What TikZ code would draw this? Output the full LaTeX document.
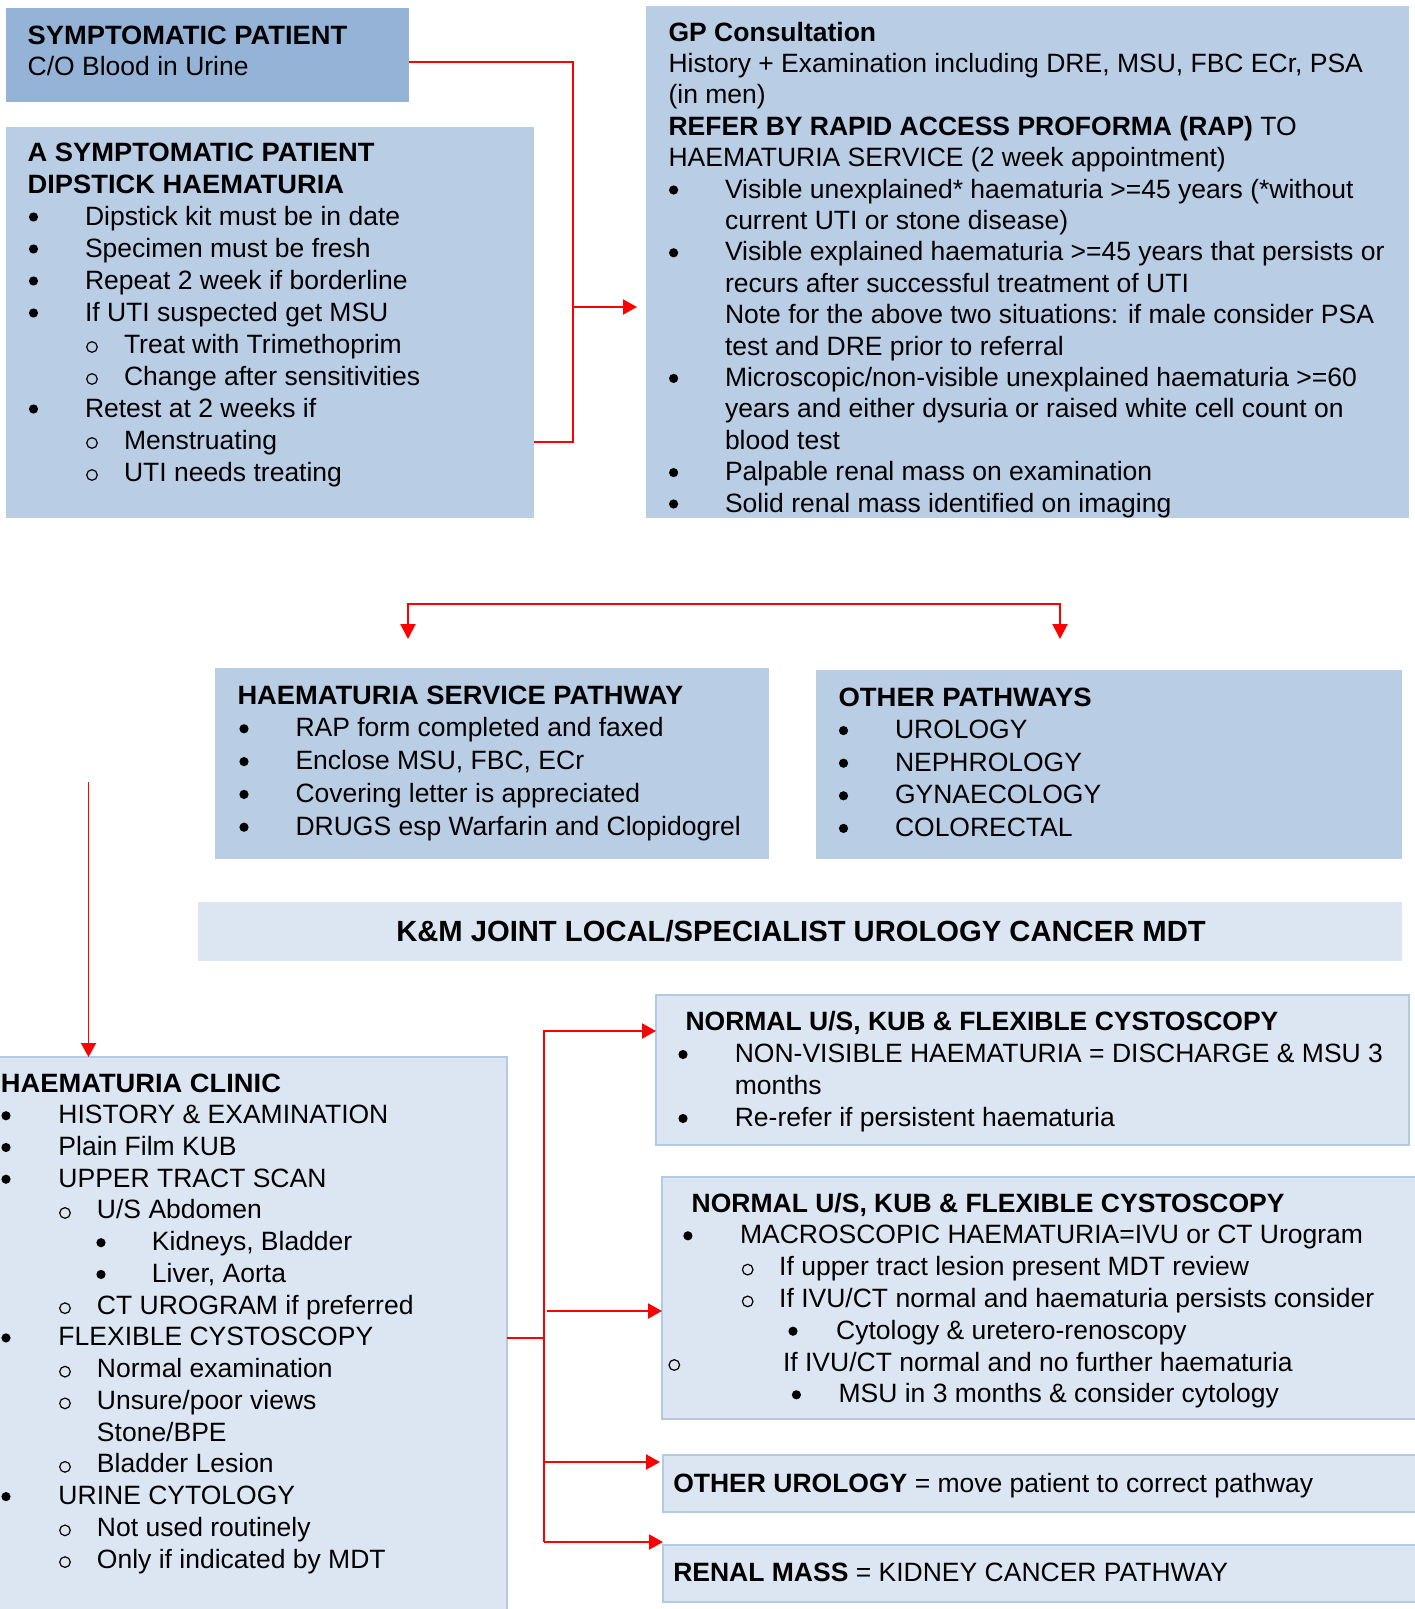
\documentclass[tikz,border=0pt]{standalone}
\usepackage{graphicx}
\usepackage{fontspec}
\setmainfont{Liberation Sans}
\usetikzlibrary{arrows.meta}
\definecolor{cA}{HTML}{95B3D7}
\definecolor{cB}{HTML}{B9CDE5}
\definecolor{cC}{HTML}{DCE6F2}
\definecolor{cE}{HTML}{B4C9E3}
\definecolor{rd}{HTML}{FF0000}
\newcommand\BU{\tikz[x=1pt,y=1pt,baseline=0pt]\fill[black] (0,8) circle (4.6);}
\newcommand\RI{\tikz[x=1pt,y=1pt,baseline=0pt]\draw[black,line width=1.2pt] (0,6) circle (5.3);}
\newcommand\HB[1]{\scalebox{1.03}[1]{\bfseries #1}}
\newcommand\LB[3]{\hbox{\rlap{\hskip#1pt\makebox[0pt]{\BU}}\hskip#2pt\relax #3}}
\newcommand\LO[3]{\hbox{\rlap{\hskip#1pt\makebox[0pt]{\RI}}\hskip#2pt\relax #3}}
\newcommand\LP[2]{\hbox{\hskip#1pt\relax #2}}
\newcommand\Lines[2]{\vtop{\baselineskip=#1pt\lineskiplimit=-100pt\lineskip=0pt #2}}
\tikzset{
  bx/.style={inner sep=0pt, outer sep=0pt, anchor=north west, draw=none},
  bxA/.style={bx, fill=cA},
  bxB/.style={bx, fill=cB},
  bxC/.style={bx, fill=cC},
  bxD/.style={bx, fill=cC, draw=cE, line width=2pt},
  txt/.style={inner sep=0pt, outer sep=0pt, anchor=base west, font=\fontsize{26.5}{31}\selectfont},
  conn/.style={draw=rd, line width=2pt},
  arr/.style={-{Triangle[length=14pt,width=15pt]}},
}
\begin{document}
\begin{tikzpicture}[x=1pt,y=-1pt]
\useasboundingbox (0,0) rectangle (1414,1609);
% boxes
\node[bxA, minimum width=403, minimum height=94] (sp) at (6,8) {};
\node[bxB, minimum width=528, minimum height=391] (asp) at (6,127) {};
\node[bxB, minimum width=763, minimum height=512] (gp) at (646,6) {};
\node[bxB, minimum width=554, minimum height=191] (hsp) at (215,668) {};
\node[bxB, minimum width=586, minimum height=189] (op) at (816,670) {};
\node[bxC, minimum width=1204, minimum height=59] (mdt) at (198,902) {};
\node[bxD, minimum width=509, minimum height=560] (clinic) at (-2,1057) {};
\node[bxD, minimum width=753, minimum height=150] (nA) at (656,995) {};
\node[bxD, minimum width=762, minimum height=242] (nB) at (662,1177) {};
\node[bxD, minimum width=762, minimum height=57] (oc) at (663,1455) {};
\node[bxD, minimum width=762, minimum height=57] (rm) at (663,1545) {};

% texts
\node[txt] (spT) at (27.7,44) {\Lines{31}{%
\LP{0}{\HB{SYMPTOMATIC PATIENT}}
\LP{0}{C/O Blood in Urine}}};

\node[txt] (aspT) at (27.7,161) {\Lines{32}{%
\LP{0}{\HB{A SYMPTOMATIC PATIENT}}
\LP{0}{\HB{DIPSTICK HAEMATURIA}}
\LB{5.8}{57.3}{Dipstick kit must be in date}
\LB{5.8}{57.3}{Specimen must be fresh}
\LB{5.8}{57.3}{Repeat 2 week if borderline}
\LB{5.8}{57.3}{If UTI suspected get MSU}
\LO{64.3}{96.3}{Treat with Trimethoprim}
\LO{64.3}{96.3}{Change after sensitivities}
\LB{5.8}{57.3}{Retest at 2 weeks if}
\LO{64.3}{96.3}{Menstruating}
\LO{64.3}{96.3}{UTI needs treating}}};

\node[txt] (gpT) at (668.6,41) {\Lines{31.4}{%
\LP{0}{\bfseries GP Consultation}
\LP{0}{History + Examination including DRE, MSU, FBC ECr, PSA}
\LP{0}{(in men)}
\LP{0}{\textbf{REFER BY RAPID ACCESS PROFORMA (RAP)} TO}
\LP{0}{HAEMATURIA SERVICE (2 week appointment)}
\LB{5}{56.4}{Visible unexplained* haematuria >=45 years (*without}
\LP{56.4}{current UTI or stone disease)}
\LB{5}{56.4}{Visible explained haematuria >=45 years that persists or}
\LP{56.4}{recurs after successful treatment of UTI}
\LP{56.4}{Note for the above two situations: if male consider PSA}
\LP{56.4}{test and DRE prior to referral}
\LB{5}{56.4}{Microscopic/non-visible unexplained haematuria >=60}
\LP{56.4}{years and either dysuria or raised white cell count on}
\LP{56.4}{blood test}
\LB{5}{56.4}{Palpable renal mass on examination}
\LB{5}{56.4}{Solid renal mass identified on imaging}}};

\node[txt] (hspT) at (237.5,704) {\Lines{32.8}{%
\LP{0}{\HB{HAEMATURIA SERVICE PATHWAY}}
\LB{6.5}{58}{RAP form completed and faxed}
\LB{6.5}{58}{Enclose MSU, FBC, ECr}
\LB{6.5}{58}{Covering letter is appreciated}
\LB{6.5}{58}{DRUGS esp Warfarin and Clopidogrel}}};

\node[txt] (opT) at (838.5,706) {\Lines{32.6}{%
\LP{0}{\scalebox{1.038}[1]{\bfseries OTHER PATHWAYS}}
\LB{5}{56.5}{UROLOGY}
\LB{5}{56.5}{NEPHROLOGY}
\LB{5}{56.5}{GYNAECOLOGY}
\LB{5}{56.5}{COLORECTAL}}};

\node[txt, anchor=base, font=\fontsize{29.2}{31}\selectfont\bfseries] (mdtT) at (801,941) {K\&M JOINT LOCAL/SPECIALIST UROLOGY CANCER MDT};

\node[txt] (clinicT) at (1,1092) {\Lines{31.74}{%
\LP{0}{\HB{HAEMATURIA CLINIC}}
\LB{5}{57.5}{HISTORY \& EXAMINATION}
\LB{5}{57.5}{Plain Film KUB}
\LB{5}{57.5}{UPPER TRACT SCAN}
\LO{64}{96}{U/S Abdomen}
\LB{100}{151}{Kidneys, Bladder}
\LB{100}{151}{Liver, Aorta}
\LO{64}{96}{CT UROGRAM if preferred}
\LB{5}{57.5}{FLEXIBLE CYSTOSCOPY}
\LO{64}{96}{Normal examination}
\LO{64}{96}{Unsure/poor views}
\LP{96}{Stone/BPE}
\LO{64}{96}{Bladder Lesion}
\LB{5}{57.5}{URINE CYTOLOGY}
\LO{64}{96}{Not used routinely}
\LO{64}{96}{Only if indicated by MDT}}};

\node[txt] (nAT) at (685.5,1030.5) {\Lines{32}{%
\LP{0}{\bfseries NORMAL U/S, KUB \& FLEXIBLE CYSTOSCOPY}
\LB{-2.5}{49.3}{NON-VISIBLE HAEMATURIA = DISCHARGE \& MSU 3}
\LP{49.3}{months}
\LB{-2.5}{49.3}{Re-refer if persistent haematuria}}};

\node[txt] (nBT) at (691.7,1212) {\Lines{31.8}{%
\LP{0}{\bfseries NORMAL U/S, KUB \& FLEXIBLE CYSTOSCOPY}
\LB{-3.8}{48.3}{MACROSCOPIC HAEMATURIA=IVU or CT Urogram}
\LO{56}{87.5}{If upper tract lesion present MDT review}
\LO{56}{87.5}{If IVU/CT normal and haematuria persists consider}
\LB{101.3}{144.5}{Cytology \& uretero-renoscopy}
\LO{-17.4}{91.3}{If IVU/CT normal and no further haematuria}
\LB{104.7}{146.9}{MSU in 3 months \& consider cytology}}};

\node[txt] (ocT) at (673.3,1492) {\textbf{OTHER UROLOGY} = move patient to correct pathway};
\node[txt] (rmT) at (673.3,1581) {\textbf{RENAL MASS} = KIDNEY CANCER PATHWAY};

% connectors
\coordinate (j1) at (573,62);
\coordinate (j2) at (573,442);
\coordinate (j3) at (573,307);
\draw[conn] (sp.east |- j1) -- (j1) -- (j2) -- (asp.east |- j2);
\draw[conn,arr] (j3) -- ([xshift=-9pt]gp.west |- j3);

\coordinate (t1) at (408,604);
\coordinate (t2) at (1060,604);
\coordinate (t1e) at (408,639);
\coordinate (t2e) at (1060,639);
\draw[conn,{Triangle[length=15pt,width=15pt]}-{Triangle[length=15pt,width=15pt]}] (t1e) -- (t1) -- (t2) -- (t2e);

\coordinate (v1) at (88.5,782);
\draw[conn,line width=1.5pt,arr] (v1) -- (v1 |- clinic.north);

\coordinate (k) at (544,1338);
\coordinate (kt) at (544,1031);
\coordinate (kb) at (544,1542);
\coordinate (kB) at (547,1311);
\coordinate (kC) at (544,1462);
\draw[conn] (clinic.east |- k) -- (k);
\draw[conn,arr] (kb) -- (kt) -- (nA.west |- kt);
\draw[conn,arr] (kB) -- (nB.west |- kB);
\draw[conn,arr] (kC) -- ([xshift=-3pt]oc.west |- kC);
\draw[conn,arr] (kb) -- (rm.west |- kb);
\end{tikzpicture}
\end{document}
